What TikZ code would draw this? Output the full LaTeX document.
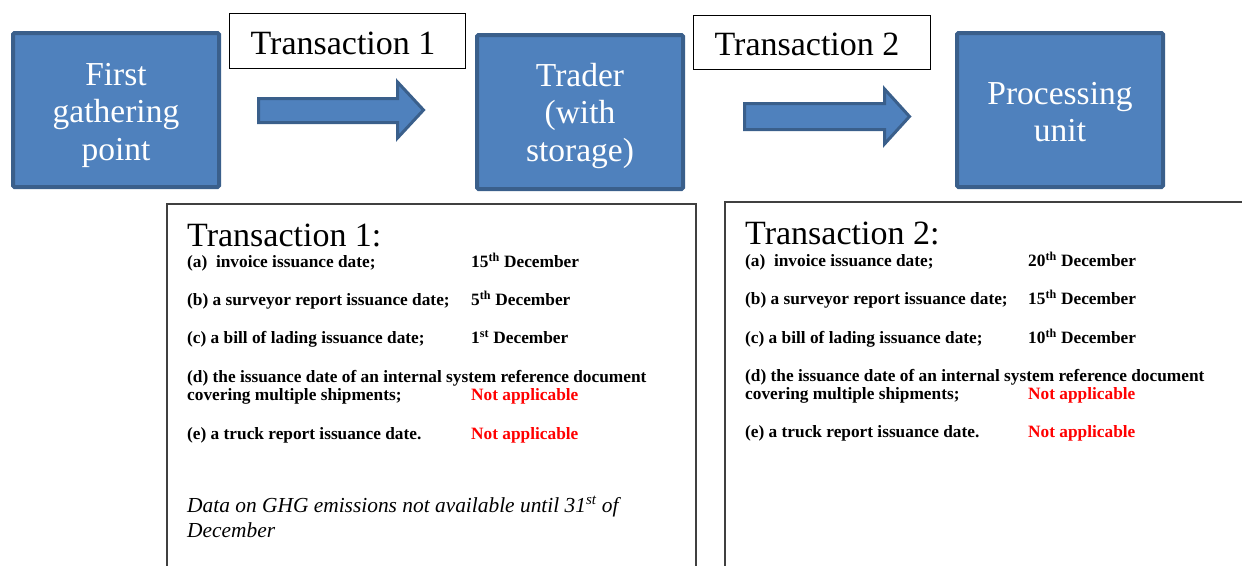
\documentclass[tikz,border=0pt]{standalone}
\usepackage{fontspec}
\setmainfont{Liberation Serif}
\definecolor{stagefill}{HTML}{4F81BD}
\definecolor{stageedge}{HTML}{3A5F8B}
\definecolor{framegray}{HTML}{404040}
\definecolor{nared}{HTML}{FF0000}
\begin{document}
\begin{tikzpicture}[x=1pt,y=-1pt,
  stagebox/.style={draw=stageedge, fill=stagefill, line width=4pt, rounded corners=1.5pt,
    minimum width=206pt, minimum height=154pt, inner sep=0pt},
  stagetext/.style={text=white, align=center, inner sep=0pt, anchor=base,
    font=\fontsize{33.5}{37.5}\selectfont},
  tagbox/.style={draw=black, line width=1.1pt, inner sep=0pt,
    minimum width=236pt, minimum height=55pt},
  tagtext/.style={inner sep=0pt, anchor=base, font=\fontsize{34}{40}\selectfont},
  flowarrow/.style={draw=stageedge, fill=stagefill, line width=3pt, line join=miter},
  txframe/.style={draw=framegray, line width=1.6pt},
  txtitle/.style={anchor=base west, inner sep=0pt, font=\fontsize{34}{40}\selectfont},
  txitem/.style={anchor=base west, inner sep=0pt, font=\fontsize{17.3}{19}\selectfont\bfseries},
  txna/.style={txitem, text=nared},
  txnote/.style={anchor=base west, inner sep=0pt, font=\fontsize{21.4}{25}\selectfont\itshape}
]
\useasboundingbox (0,0) rectangle (1242,565);

% stages of the supply chain
\node[stagebox] (gather) at (116,110) {};
\node[stagebox] (trader) at (580,112) {};
\node[stagebox] (proc)   at (1060,110) {};
% multi-line labels are anchored at the baseline of their last line
\node[stagetext] (gathert) at (116,160)    {First\\gathering\\point};
\node[stagetext] (tradert) at (580,161)    {Trader\\(with\\storage)};
\node[stagetext] (proct)   at (1060,141.5) {Processing\\unit};

% transaction tags
\node[tagbox] (tag1) at (347.5,41) {};
\node[tagbox, minimum height=54pt, minimum width=237pt] (tag2) at (812,42.5) {};
\node[tagtext] (tag1t) at (343,54) {Transaction 1};
\node[tagtext] (tag2t) at (807,55) {Transaction 2};

% block arrows between stages
\draw[flowarrow] (258.5,98.5) -- (397.5,98.5) -- (397.5,82) -- (423.5,110)
  -- (397.5,138) -- (397.5,122.5) -- (258.5,122.5) -- cycle;
\draw[flowarrow] (744.5,103.5) -- (884.5,103.5) -- (884.5,89) -- (909.5,116.5)
  -- (884.5,144) -- (884.5,129.5) -- (744.5,129.5) -- cycle;

% document panels
\draw[txframe] (167,570) -- (167,204) -- (696,204) -- (696,570);
\draw[txframe] (725,570) -- (725,202) -- (1250,202);

% transaction 1 details
\node[txtitle] (t1title) at (187,246) {Transaction 1:};
\node[txitem] (t1a) at (187,267.5) {(a)\ \ invoice issuance date;};
\node[txitem] (t1ad) at (471,267.5) {15\textsuperscript{th} December};
\node[txitem] (t1b) at (187,305.5) {(b) a surveyor report issuance date;};
\node[txitem] (t1bd) at (471,305.5) {5\textsuperscript{th} December};
\node[txitem] (t1c) at (187,343.5) {(c) a bill of lading issuance date;};
\node[txitem] (t1cd) at (471,343.5) {1\textsuperscript{st} December};
\node[txitem] (t1d) at (187,382.5) {(d) the issuance date of an internal system reference document};
\node[txitem] (t1d2) at (187,400.5) {covering multiple shipments;};
\node[txna] (t1dd) at (471,400.5) {Not applicable};
\node[txitem] (t1e) at (187,439.5) {(e) a truck report issuance date.};
\node[txna] (t1ed) at (471,439.5) {Not applicable};
\node[txnote] (t1n) at (187,512) {Data on GHG emissions not available until 31\textsuperscript{st} of};
\node[txnote] (t1n2) at (187,537) {December};

% transaction 2 details
\node[txtitle] (t2title) at (745,244) {Transaction 2:};
\node[txitem] (t2a) at (745,266.5) {(a)\ \ invoice issuance date;};
\node[txitem] (t2ad) at (1028,266.5) {20\textsuperscript{th} December};
\node[txitem] (t2b) at (745,304.5) {(b) a surveyor report issuance date;};
\node[txitem] (t2bd) at (1028,304.5) {15\textsuperscript{th} December};
\node[txitem] (t2c) at (745,343.5) {(c) a bill of lading issuance date;};
\node[txitem] (t2cd) at (1028,343.5) {10\textsuperscript{th} December};
\node[txitem] (t2d) at (745,381.5) {(d) the issuance date of an internal system reference document};
\node[txitem] (t2d2) at (745,399.5) {covering multiple shipments;};
\node[txna] (t2dd) at (1028,399.5) {Not applicable};
\node[txitem] (t2e) at (745,437.5) {(e) a truck report issuance date.};
\node[txna] (t2ed) at (1028,437.5) {Not applicable};
\end{tikzpicture}
\end{document}
